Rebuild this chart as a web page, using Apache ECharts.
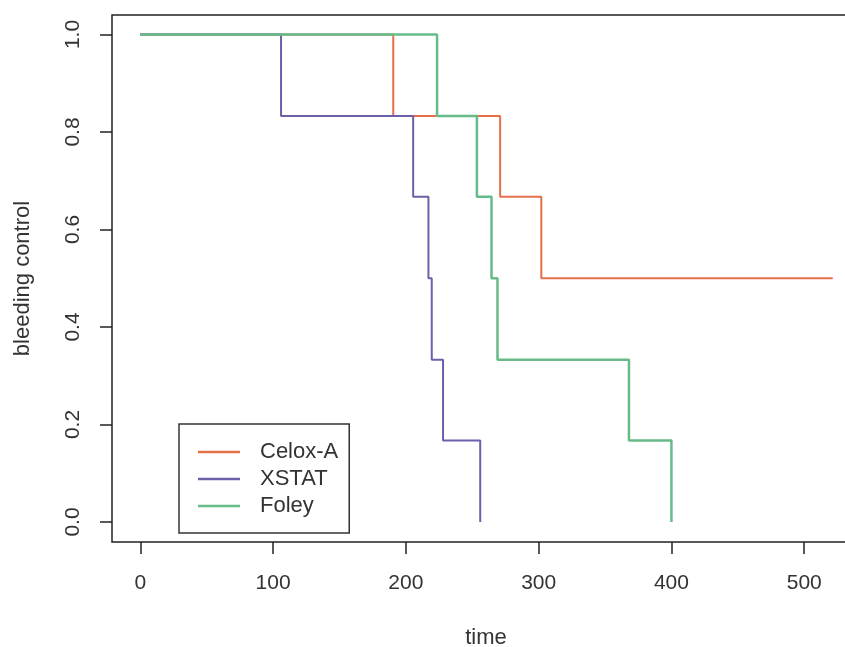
<!DOCTYPE html>
<html>
<head>
<meta charset="utf-8">
<script src="https://cdn.jsdelivr.net/npm/echarts@6/dist/echarts.min.js"></script>
<style>
  html, body { margin: 0; padding: 0; background: #fff; }
  #main { width: 845px; height: 647px; }
</style>
</head>
<body>
<div id="main"></div>
<script>
// Kaplan-Meier steps: time where the curve drops, and the value after the drop
var celoxTime = [0, 190.5, 271, 302, 521.5];
var celoxSurv = [1, 0.833, 0.667, 0.5, 0.5];
var xstatTime = [0, 106, 205.5, 217, 219.5, 228, 256];
var xstatSurv = [1, 0.833, 0.667, 0.5, 0.333, 0.167, 0];
var foleyTime = [0, 223.5, 253.5, 264.5, 269, 368, 400];
var foleySurv = [1, 0.833, 0.667, 0.5, 0.333, 0.167, 0];
var xTicks = [0, 100, 200, 300, 400, 500];
var yTicks = [0, 0.2, 0.4, 0.6, 0.8, 1.0];

function pairs(t, s) {
    var out = [];
    for (var i = 0; i < t.length; i++) out.push([t[i], s[i]]);
    return out;
}

var txt = '#333';
var font = 'Liberation Sans';
var myChart = echarts.init(document.getElementById('main'));
var option = {
    animation: false,
    backgroundColor: '#fff',
    textStyle: { fontFamily: font },
    grid: {
        left: 112, top: 15, bottom: 105, width: 748,
        outerBoundsMode: 'none', containLabel: false,
        show: true, borderColor: '#222', borderWidth: 1.5
    },
    legend: {
        orient: 'vertical',
        left: 179, top: 424,
        padding: [17, 11, 16, 19],
        borderColor: '#333', borderWidth: 1.5,
        icon: 'rect',
        itemWidth: 42, itemHeight: 2.5, itemGap: 5,
        textStyle: { fontSize: 22, color: txt, fontFamily: font, padding: [0, 0, 0, 15] },
        data: ['Celox-A', 'XSTAT', 'Foley']
    },
    xAxis: {
        type: 'value',
        min: -21.3, max: 542,
        name: 'time', nameLocation: 'middle', nameGap: 85,
        nameTextStyle: { fontSize: 22, color: txt, fontFamily: font },
        splitLine: { show: false },
        axisLine: { show: false, onZero: false },
        axisTick: { show: true, length: 12, customValues: xTicks, lineStyle: { color: '#222', width: 1.5 } },
        axisLabel: { customValues: xTicks, fontSize: 21, color: txt, margin: 31, fontFamily: font }
    },
    yAxis: {
        type: 'value',
        min: -0.041, max: 1.040,
        name: 'bleeding control', nameLocation: 'middle', nameGap: 78,
        nameTextStyle: { fontSize: 22, color: txt, fontFamily: font },
        splitLine: { show: false },
        axisLine: { show: false, onZero: false },
        axisTick: { show: true, length: 12, customValues: yTicks, lineStyle: { color: '#222', width: 1.5 } },
        axisLabel: {
            customValues: yTicks, fontSize: 21, color: txt, margin: 28, rotate: 90, fontFamily: font,
            formatter: function (v) { return v.toFixed(1); }
        }
    },
    series: [
        {
            name: 'Celox-A', type: 'line', step: 'end', symbol: 'none',
            data: pairs(celoxTime, celoxSurv),
            itemStyle: { color: '#E5704A' },
            lineStyle: { color: '#E5704A', width: 2 }
        },
        {
            name: 'XSTAT', type: 'line', step: 'end', symbol: 'none',
            data: pairs(xstatTime, xstatSurv),
            itemStyle: { color: '#6E5FAA' },
            lineStyle: { color: '#6E5FAA', width: 2 }
        },
        {
            name: 'Foley', type: 'line', step: 'end', symbol: 'none',
            data: pairs(foleyTime, foleySurv),
            itemStyle: { color: '#66BB88' },
            lineStyle: { color: '#66BB88', width: 2.5 }
        }
    ]
};
myChart.setOption(option);
</script>
</body>
</html>
